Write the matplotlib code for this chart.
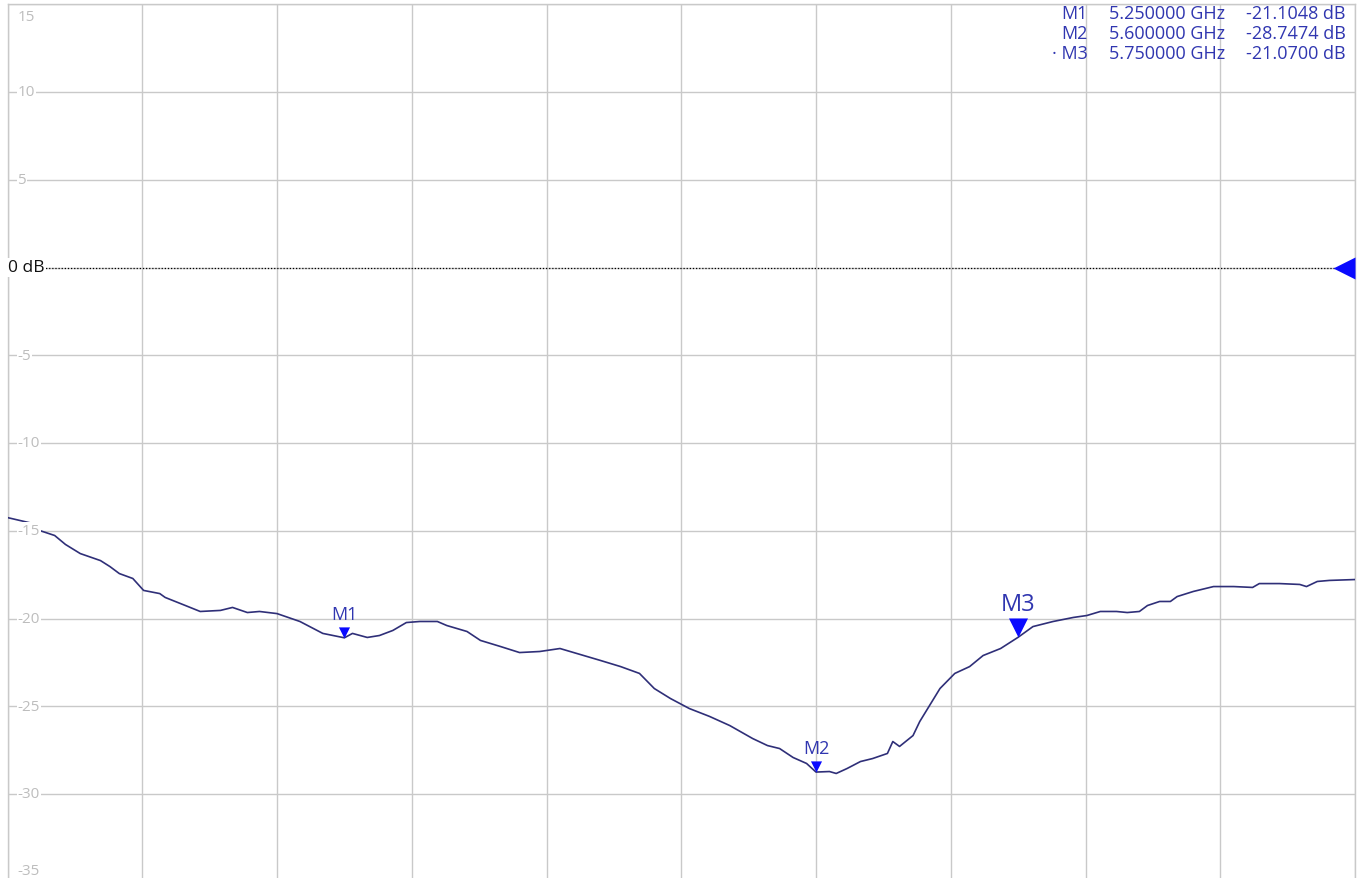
import numpy as np
import matplotlib
matplotlib.use("Agg")
import matplotlib.pyplot as plt

plt.rcParams['font.family'] = ['Open Sans', 'DejaVu Sans']

# trace: S11 magnitude over the sweep
freq_ghz = [5.000, 5.019, 5.024, 5.035, 5.043, 5.054, 5.069, 5.076, 5.083, 5.093,
            5.101, 5.113, 5.117, 5.132, 5.143, 5.158, 5.167, 5.178, 5.187, 5.200,
            5.217, 5.234, 5.250, 5.256, 5.267, 5.276, 5.286, 5.296, 5.306, 5.319,
            5.326, 5.341, 5.351, 5.366, 5.380, 5.395, 5.410, 5.425, 5.440, 5.455,
            5.469, 5.480, 5.492, 5.506, 5.521, 5.536, 5.553, 5.564, 5.573, 5.583,
            5.593, 5.600, 5.610, 5.615, 5.623, 5.633, 5.642, 5.653, 5.657, 5.662,
            5.672, 5.677, 5.692, 5.703, 5.714, 5.724, 5.737, 5.750, 5.761, 5.776,
            5.791, 5.801, 5.811, 5.823, 5.831, 5.840, 5.846, 5.855, 5.863, 5.868,
            5.880, 5.895, 5.910, 5.924, 5.929, 5.944, 5.959, 5.964, 5.972, 5.981,
            6.000]
s11_db = [-14.25, -14.59, -14.99, -15.27, -15.78, -16.30, -16.70, -17.04, -17.44, -17.72,
          -18.40, -18.58, -18.80, -19.26, -19.60, -19.54, -19.37, -19.66, -19.60, -19.72,
          -20.17, -20.85, -21.10, -20.85, -21.08, -20.97, -20.68, -20.23, -20.17, -20.17,
          -20.40, -20.74, -21.25, -21.60, -21.94, -21.88, -21.71, -22.05, -22.39, -22.74,
          -23.13, -23.99, -24.56, -25.13, -25.58, -26.10, -26.84, -27.24, -27.41, -27.92,
          -28.26, -28.75, -28.72, -28.83, -28.55, -28.15, -27.98, -27.69, -27.01, -27.29,
          -26.67, -25.87, -23.99, -23.13, -22.74, -22.11, -21.71, -21.07, -20.46, -20.17,
          -19.94, -19.83, -19.60, -19.60, -19.66, -19.60, -19.26, -19.03, -19.03, -18.75,
          -18.46, -18.18, -18.18, -18.23, -18.01, -18.01, -18.06, -18.18, -17.89, -17.83,
          -17.78]

marker_names = ["M1", "M2", "M3"]
marker_freq = [5.25, 5.60, 5.75]
marker_db = [-21.1048, -28.7474, -21.0700]
active_marker = 2

x_ticks = np.round(np.arange(5.0, 6.01, 0.1), 2)
y_ticks = list(range(-35, 16, 5))

grid_col = '#c9c9c9'
label_col = '#bdbdbd'
trace_col = '#2f2f78'
mark_col = '#0a0aff'
text_col = '#3036b0'

fig = plt.figure(figsize=(13.65, 8.79), dpi=100)
ax = fig.add_axes([7.5 / 1365, -3.75 / 879, 1347.5 / 1365, 877.5 / 879])
ax.set_xlim(5.0, 6.0)
ax.set_ylim(-35, 15)
ax.set_xticks(x_ticks)
ax.set_yticks(y_ticks)
ax.tick_params(length=0, labelbottom=False, labelleft=False)
ax.grid(True, color=grid_col, lw=1.0)
for sp in ax.spines.values():
    sp.set_color(grid_col)
    sp.set_linewidth(1.0)

# y labels drawn inside the plot
for v in y_ticks:
    if v == 0:
        continue
    dy = 0
    if v == 15:
        dy = -12
    elif v == -35:
        dy = 11
    ax.annotate(str(v), (0, v), xycoords=('axes fraction', 'data'),
                xytext=(10, dy), textcoords='offset pixels',
                ha='left', va='center', fontsize=11, color=label_col, zorder=4,
                bbox=dict(boxstyle='square,pad=0.05', fc='white', ec='none'))

# reference level line and arrow
ax.plot([5.0, 6.0], [0, 0], ls=(0, (1, 1.5)), color='black', lw=0.9, zorder=3)
ax.annotate("0 dB", (0, 0), xycoords=('axes fraction', 'data'),
            xytext=(0, 0), textcoords='offset pixels',
            ha='left', va='center', fontsize=12.5, color='#111111', zorder=4,
            bbox=dict(boxstyle='square,pad=0.1', fc='white', ec='none'))
ref_arrow = [(0, -0.5), (0, 0.5), (-1, 0)]
ax.plot([6.0], [0], marker=ref_arrow, ms=31.7, color=mark_col, mec='none',
        clip_on=False, zorder=5)

# trace
ax.plot(freq_ghz, s11_db, color=trace_col, lw=1.2, zorder=3)

# markers
tri_down = [(0, 0), (-0.5, 1), (0.5, 1)]
for i, (name, f, d) in enumerate(zip(marker_names, marker_freq, marker_db)):
    big = i == active_marker
    ax.plot([f], [d], marker=tri_down, ms=27.4 if big else 16,
            color=mark_col, mec='none', zorder=5)
    ax.annotate(name, (f, d), xytext=(0, 33 if big else 24),
                textcoords='offset pixels', ha='center', va='center',
                fontsize=17 if big else 13, color=text_col, zorder=6)

# marker readout table, top right
for i, (name, f, d) in enumerate(zip(marker_names, marker_freq, marker_db)):
    y = 879 - (14 + 20 * i)
    tag = ("\u00b7 " + name) if i == active_marker else name
    fig.text(1088 / 1365, y / 879, tag, ha='right', va='center',
             fontsize=13, color=text_col)
    fig.text(1225 / 1365, y / 879, f"{f:.6f} GHz", ha='right', va='center',
             fontsize=13, color=text_col)
    fig.text(1346 / 1365, y / 879, f"{d:.4f} dB", ha='right', va='center',
             fontsize=13, color=text_col)

fig.savefig("out.png", dpi=100)
